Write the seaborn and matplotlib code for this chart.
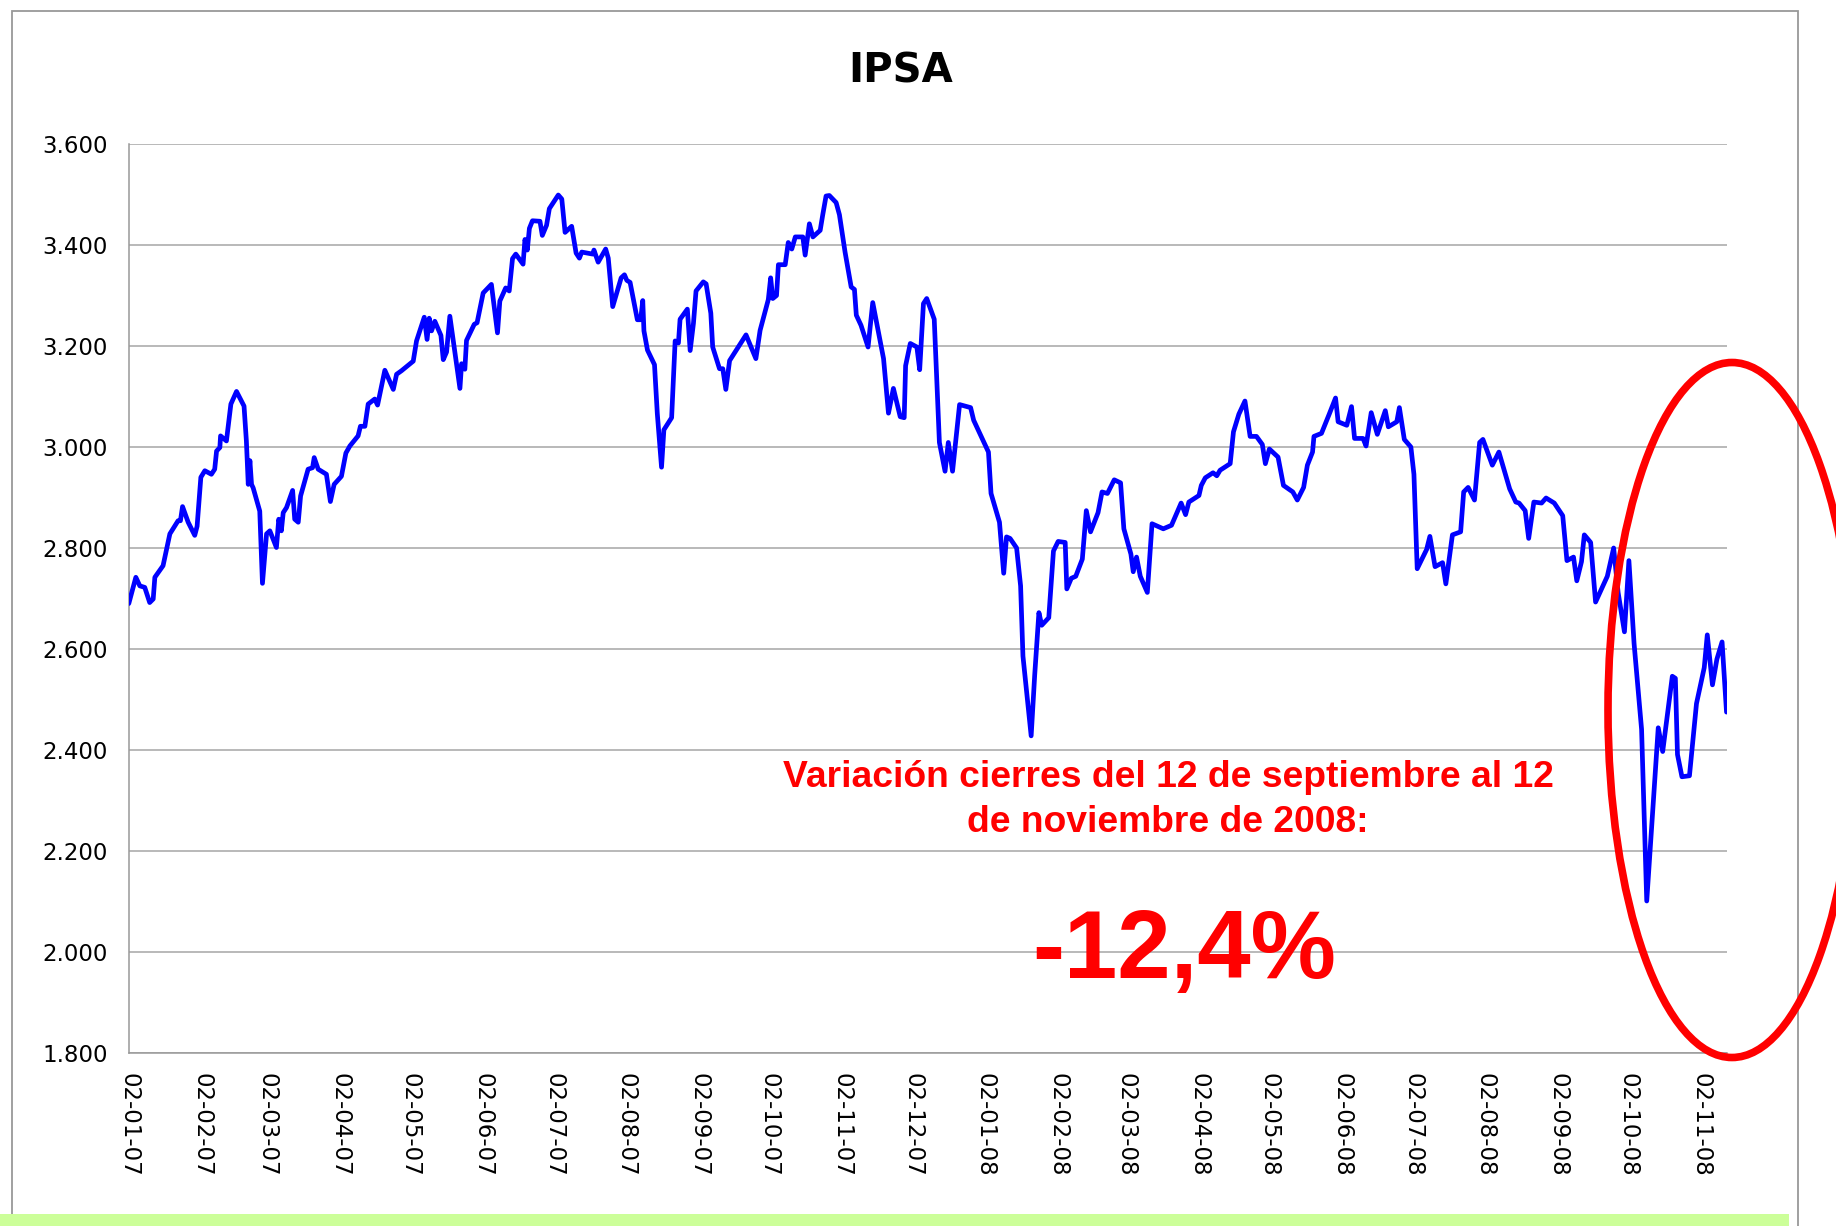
import matplotlib
matplotlib.use("Agg")
import numpy as np
import pandas as pd
import matplotlib.pyplot as plt
import matplotlib.patches as mpatches
import matplotlib.dates as mdates
from matplotlib.ticker import FuncFormatter
import seaborn as sns

# IPSA closes; offsets are days since 2 Jan 2007
days_2007 = [
    0.0, 3.0, 4.7, 6.8, 8.9, 10.4, 11.1, 14.6, 17.5, 21.0, 22.0, 22.9, 25.3, 28.1,
    29.1, 30.7, 32.4, 35.2, 36.6, 37.4, 38.8, 39.1, 41.6, 43.5, 45.9, 49.1, 50.1,
    50.9, 51.6, 52.3, 53.0, 55.8, 56.95, 58.7, 60.1, 62.9, 63.9, 65.0, 65.8, 67.2,
    69.8, 70.7, 72.2, 73.2, 76.4, 78.3, 79.0, 80.7, 84.2, 85.9, 87.5, 90.6, 92.5,
    94.2, 97.7, 98.7, 100.6, 102.0, 104.8, 106.0, 109.1, 112.7, 114.1, 116.2, 121.2,
    122.6, 125.9, 127.1, 128.0, 129.0, 130.4, 133.0, 134.0, 135.4, 136.8, 141.1,
    141.8, 143.2, 143.9, 147.2, 148.4, 151.0, 154.5, 157.1, 158.1, 160.6, 162.1,
    163.5, 164.9, 168.0, 168.8, 169.8, 170.7, 172.0, 175.2, 176.2, 178.0, 179.2,
    183.0, 184.5, 185.9, 188.7, 190.6, 192.0, 193.0, 197.7, 198.2, 200.0, 203.2,
    204.3, 206.2, 209.8, 211.2, 212.2, 213.6, 216.7, 218.1, 219.0, 219.5, 221.0,
    224.0, 225.2, 227.0, 228.0, 231.3, 232.8, 234.2, 234.9, 238.0, 239.2, 240.6,
    241.7, 244.8, 246.0, 248.0, 248.8, 251.7, 253.1, 254.4, 256.0, 263.0, 267.2,
    269.0, 272.5, 273.5, 274.4, 276.0, 276.8, 279.7, 281.0, 282.5, 284.0, 287.2,
    288.2, 290.0, 291.5, 294.6, 295.7, 297.1, 298.5, 301.4, 302.8, 305.2, 307.8,
    309.2, 310.0, 312.0, 315.0, 317.0, 321.6, 323.7, 325.8, 328.7, 330.4, 331.0,
    333.0, 335.8, 337.0, 338.6, 340.0, 343.2, 345.4, 347.8, 349.2, 351.0, 354.0,
    358.7, 360.0,
]
ipsa_2007 = [
    2690, 2742, 2725, 2722, 2692, 2699, 2742, 2765, 2828, 2854, 2854, 2882, 2851, 2825,
    2843, 2940, 2953, 2946, 2956, 2992, 2999, 3022, 3012, 3085, 3110, 3081, 3012,
    2926, 2973, 2926, 2919, 2873, 2730, 2828, 2834, 2801, 2857, 2834, 2870, 2880,
    2914, 2857, 2851, 2903, 2956, 2959, 2979, 2956, 2946, 2892, 2926, 2942, 2988,
    3002, 3022, 3041, 3041, 3085, 3095, 3083, 3152, 3114, 3144, 3151, 3170,
    3210, 3257, 3213, 3255, 3230, 3249, 3221, 3173, 3188, 3259, 3116,
    3165, 3154, 3211, 3243, 3246, 3305, 3322, 3226, 3289, 3315, 3309,
    3373, 3382, 3362, 3411, 3390, 3433, 3448, 3447, 3419, 3439, 3472,
    3499, 3491, 3425, 3437, 3384, 3374, 3386, 3382, 3390, 3366, 3392,
    3374, 3278, 3335, 3341, 3330, 3326, 3252, 3252, 3290, 3230, 3192,
    3163, 3066, 2960, 3034, 3058, 3210, 3206, 3253, 3273, 3191, 3245,
    3309, 3327, 3323, 3265, 3198, 3155, 3155, 3114, 3171, 3222, 3175,
    3231, 3292, 3335, 3294, 3300, 3361, 3361, 3405, 3392, 3416, 3416,
    3380, 3442, 3416, 3429, 3460, 3497, 3498, 3484, 3460, 3386, 3317,
    3312, 3261, 3241, 3198, 3286, 3175, 3067, 3116, 3060, 3058, 3161,
    3205, 3198, 3153, 3284, 3294, 3253, 3009, 2952, 3009, 2952, 3084,
    3078, 3053,
]

days_2008 = [
    366.3, 367.4, 371.0, 372.8, 374.0, 375.5, 378.3, 380.0, 381.0, 384.5, 386.0,
    387.8, 389.0, 392.0, 394.0, 396.0, 399.0, 399.7, 401.6, 403.5, 406.3, 408.0,
    409.8, 413.0, 414.7, 417.0, 419.9, 422.6, 424.0, 427.0, 428.0, 429.4, 431.0,
    434.0, 436.0, 440.8, 444.3, 448.4, 450.3, 451.7, 456.0, 457.0, 458.7, 462.0,
    463.6, 465.0, 469.3, 470.7, 473.0, 475.6, 477.8, 480.5, 483.0, 484.3, 486.0,
    489.7, 492.0, 496.0, 497.9, 500.6, 502.2, 504.4, 505.0, 508.2, 511.5, 514.2,
    515.3, 519.0, 521.0, 522.3, 525.9, 527.2, 529.4, 532.0, 535.4, 536.7, 540.3,
    541.4, 543.5, 546.3, 547.6, 549.0, 553.0, 554.4, 556.6, 559.8, 561.2, 564.0,
    567.5, 568.8, 570.7, 573.4, 575.6, 577.0, 581.0, 583.8, 588.4, 591.0, 592.4,
    595.0, 596.5, 598.7, 602.0, 603.9, 607.4, 611.0, 612.8, 615.6, 617.0, 619.0,
    620.2, 622.9, 625.0, 630.0, 632.7, 634.6, 637.3, 639.2, 641.4, 644.6, 646.8,
    651.7, 653.6, 657.7, 659.0, 659.9, 661.8, 665.0, 668.0, 671.3, 672.6, 674.8,
    676.7, 678.9, 680.8,
]
ipsa_2008 = [
    2990, 2908, 2851, 2750, 2822, 2819, 2800, 2725, 2586, 2428, 2548,
    2672, 2647, 2662, 2794, 2813, 2811, 2719, 2740, 2744, 2778, 2874,
    2832, 2870, 2911, 2908, 2935, 2929, 2838, 2788, 2753, 2782, 2744,
    2712, 2848, 2838, 2845, 2889, 2866, 2891, 2904, 2924, 2939, 2949,
    2943, 2954, 2967, 3030, 3065, 3091, 3021, 3021, 3005, 2967, 2996,
    2980, 2924, 2911, 2895, 2920, 2964, 2990, 3021, 3027, 3065, 3097,
    3050, 3043, 3080, 3017, 3017, 3002, 3068, 3025, 3072, 3040, 3050,
    3078, 3015, 3000, 2946, 2759, 2797, 2823, 2763, 2771, 2729, 2826,
    2832, 2911, 2920, 2895, 3009, 3015, 2964, 2990, 2917, 2891, 2889,
    2874, 2819, 2891, 2889, 2899, 2889, 2864, 2775, 2782, 2735, 2773,
    2826, 2811, 2693, 2744, 2800, 2712, 2634, 2775, 2611, 2441, 2101,
    2444, 2397, 2546, 2542, 2391, 2347, 2349, 2492, 2563, 2628, 2529,
    2580, 2614, 2475,
]

y_ticks = [1800, 2000, 2200, 2400, 2600, 2800, 3000, 3200, 3400, 3600]
title = "IPSA"
note_line1 = "Variación cierres del 12 de septiembre al 12"
note_line2 = "de noviembre de 2008:"
note_value = "-12,4%"

start = pd.Timestamp("2007-01-02")
df = pd.DataFrame({
    "fecha": start + pd.to_timedelta(days_2007 + days_2008, unit="D"),
    "ipsa": ipsa_2007 + ipsa_2008,
})

sns.set_style("white")
plt.rcParams["font.family"] = ["DejaVu Sans"]

W, H = 1836, 1226
fig = plt.figure(figsize=(W / 100, H / 100), dpi=100)
ax = fig.add_axes([128.8 / W, 1 - 1053 / H, (1727 - 128.8) / W, (1053 - 144) / H])

sns.lineplot(data=df, x="fecha", y="ipsa", ax=ax, color="#0000ff", lw=3.4,
             estimator=None, sort=False, zorder=3)

ax.set_xlim(start, pd.Timestamp("2008-11-13"))
ax.set_ylim(1800, 3600)
ax.set_yticks(y_ticks)
ax.yaxis.set_major_formatter(FuncFormatter(lambda v, _: f"{v:,.0f}".replace(",", ".")))

month_ticks = pd.date_range("2007-01-01", "2008-11-01", freq="MS") + pd.Timedelta(days=1)
ax.set_xticks(month_ticks)
ax.xaxis.set_major_formatter(mdates.DateFormatter("%d-%m-%y"))
plt.setp(ax.get_xticklabels(), rotation=-90, ha="center", va="top")

ax.set_xlabel("")
ax.set_ylabel("")
ax.grid(axis="y", color="#adadad", lw=1.2)
ax.grid(axis="x", visible=False)
for side in ["top", "right"]:
    ax.spines[side].set_visible(False)
for side in ["left", "bottom"]:
    ax.spines[side].set_color("#999999")
    ax.spines[side].set_linewidth(1.1)
ax.tick_params(axis="y", length=5, width=1, color="#999999", pad=10,
               labelsize=16.5, labelcolor="black")
ax.tick_params(axis="x", length=5.5, width=1, color="#999999", pad=9,
               labelsize=16.5, labelcolor="black")

# chart frame and green strip at the bottom
fig.add_artist(mpatches.Rectangle((12 / W, -0.05), (1798 - 12) / W, 1 - 11 / H + 0.05,
                                  transform=fig.transFigure, fill=False,
                                  ec="#999999", lw=1.3, zorder=0))
fig.add_artist(mpatches.Rectangle((0, 0), 1789 / W, 12 / H, transform=fig.transFigure,
                                  fc="#ccff99", ec="none", zorder=1))

fig.text(901 / W, 1 - 71.5 / H, title, ha="center", va="center",
         fontsize=29, fontweight="bold", color="black")

red = "#ff0000"
fig.text(1168 / W, 1 - 787 / H, note_line1, ha="center", va="baseline",
         fontsize=26.8, fontweight="bold", color=red, family=["Liberation Sans"])
fig.text(1168 / W, 1 - 832 / H, note_line2, ha="center", va="baseline",
         fontsize=26.8, fontweight="bold", color=red, family=["Liberation Sans"])
fig.text(1184 / W, 1 - 978 / H, note_value, ha="center", va="baseline",
         fontsize=69, fontweight="bold", color=red, family=["Liberation Sans"])

fig.add_artist(mpatches.Ellipse((1732 / W, 1 - 710 / H), 248 / W, 695 / H,
                                transform=fig.transFigure, fill=False,
                                ec=red, lw=5.5, zorder=5))

fig.savefig("out.png", dpi=100)
